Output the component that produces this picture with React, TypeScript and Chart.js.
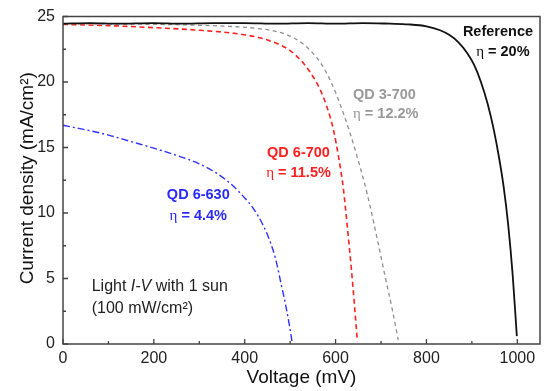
import React, { useEffect, useRef } from "react";
import { Chart, registerables } from "chart.js";

Chart.register(...registerables);

// ---- Data (voltage in mV, current density in mA/cm²) ----
const refV = [0, 60, 120, 200, 260, 330, 400, 470, 540, 600, 660, 720, 760, 800, 830, 850, 870, 890, 905, 920, 935, 948, 960, 970, 980, 990, 999];
const refJ = [24.45, 24.5, 24.45, 24.5, 24.45, 24.5, 24.5, 24.45, 24.5, 24.45, 24.5, 24.45, 24.4, 24.25, 23.95, 23.6, 23.05, 22.2, 21.3, 20.0, 18.3, 16.4, 14.2, 12.0, 9.1, 5.2, 0.6];

const qd3700V = [0, 100, 200, 300, 380, 430, 470, 500, 525, 550, 570, 590, 610, 630, 650, 670, 690, 710, 725, 738];
const qd3700J = [24.45, 24.43, 24.4, 24.33, 24.22, 24.08, 23.85, 23.5, 23.0, 22.2, 21.3, 20.0, 18.3, 16.3, 14.0, 11.4, 8.3, 5.0, 2.6, 0.3];

const qd6700V = [0, 100, 200, 300, 380, 430, 470, 500, 525, 545, 565, 580, 595, 607, 617, 626, 635, 642, 648];
const qd6700J = [24.4, 24.3, 24.15, 23.95, 23.7, 23.4, 22.95, 22.4, 21.6, 20.7, 19.5, 18.2, 16.4, 14.2, 11.9, 8.9, 5.65, 2.8, 0.2];

const qd6630V = [0, 50, 100, 150, 200, 250, 300, 340, 370, 400, 420, 440, 455, 468, 480, 490, 498, 505];
const qd6630J = [16.7, 16.35, 15.95, 15.45, 14.95, 14.4, 13.75, 13.0, 12.2, 11.15, 10.3, 9.1, 7.9, 6.5, 4.6, 3.0, 1.5, 0.0];

const xMajorTicks = [0, 200, 400, 600, 800, 1000];
const xMinorTicks = [100, 300, 500, 700, 900];
const yMajorTicks = [0, 5, 10, 15, 20, 25];
const yMinorTicks = [2.5, 7.5, 12.5, 17.5, 22.5];

const xTitle = "Voltage (mV)";
const yTitle = "Current density (mA/cm²)";

// ---- Styles ----
const FONT = "'Liberation Sans', Arial, sans-serif";
const BOLD = `bold 14.5px ${FONT}`;
const ETA = `15px 'Liberation Serif', 'DejaVu Serif', serif`;
const NORMAL = `16px ${FONT}`;
const ITALIC = `italic 16px ${FONT}`;

type Run = { text: string; font: string };
type Note = { x: number; y: number; align: "left" | "center" | "right"; color: string; runs: Run[] };

const notes: Note[] = [
  { x: 1034.6, y: 23.82, align: "right", color: "#111", runs: [{ text: "Reference", font: BOLD }] },
  { x: 1027, y: 22.31, align: "right", color: "#111", runs: [{ text: "η", font: ETA }, { text: " = 20%", font: BOLD }] },
  { x: 638.3, y: 19.0, align: "left", color: "#999", runs: [{ text: "QD 3-700", font: BOLD }] },
  { x: 638.3, y: 17.53, align: "left", color: "#999", runs: [{ text: "η", font: ETA }, { text: " = 12.2%", font: BOLD }] },
  { x: 518.4, y: 14.56, align: "center", color: "#ff1f1f", runs: [{ text: "QD 6-700", font: BOLD }] },
  { x: 518.4, y: 13.03, align: "center", color: "#ff1f1f", runs: [{ text: "η", font: ETA }, { text: " = 11.5%", font: BOLD }] },
  { x: 297.8, y: 11.37, align: "center", color: "#2a2aff", runs: [{ text: "QD 6-630", font: BOLD }] },
  { x: 297.8, y: 9.79, align: "center", color: "#2a2aff", runs: [{ text: "η", font: ETA }, { text: " = 4.4%", font: BOLD }] },
  {
    x: 63.2, y: 4.37, align: "left", color: "#222",
    runs: [{ text: "Light ", font: NORMAL }, { text: "I-V", font: ITALIC }, { text: " with 1 sun", font: NORMAL }],
  },
  { x: 63.2, y: 2.73, align: "left", color: "#222", runs: [{ text: "(100 mW/cm²)", font: NORMAL }] },
];

function drawRuns(ctx: CanvasRenderingContext2D, runs: Run[], x: number, y: number, align: string, color: string) {
  const widths = runs.map((r) => {
    ctx.font = r.font;
    return ctx.measureText(r.text).width;
  });
  const total = widths.reduce((a, b) => a + b, 0);
  let start = align === "left" ? x : align === "right" ? x - total : x - total / 2;
  ctx.fillStyle = color;
  ctx.textBaseline = "middle";
  ctx.textAlign = "left";
  runs.forEach((r, i) => {
    ctx.font = r.font;
    ctx.fillText(r.text, start, y);
    start += widths[i];
  });
}

const framePlugin = {
  id: "framePlugin",
  afterDraw(chart: any) {
    const { ctx, chartArea: a, scales } = chart;
    const xs = scales.x;
    const ys = scales.y;
    ctx.save();
    const axisColor = "#444";
    ctx.strokeStyle = axisColor;
    ctx.lineWidth = 1.5;
    ctx.strokeRect(a.left, a.top, a.right - a.left, a.bottom - a.top);

    // ticks (inside)
    ctx.lineWidth = 1.3;
    ctx.beginPath();
    xMajorTicks.forEach((v) => {
      const px = xs.getPixelForValue(v);
      ctx.moveTo(px, a.bottom);
      ctx.lineTo(px, a.bottom - 5);
    });
    xMinorTicks.forEach((v) => {
      const px = xs.getPixelForValue(v);
      ctx.moveTo(px, a.bottom);
      ctx.lineTo(px, a.bottom - 3);
    });
    yMajorTicks.forEach((v) => {
      const py = ys.getPixelForValue(v);
      ctx.moveTo(a.left, py);
      ctx.lineTo(a.left + 5, py);
    });
    yMinorTicks.forEach((v) => {
      const py = ys.getPixelForValue(v);
      ctx.moveTo(a.left, py);
      ctx.lineTo(a.left + 3, py);
    });
    ctx.stroke();

    // tick labels
    ctx.fillStyle = "#222";
    ctx.font = `16px ${FONT}`;
    ctx.textBaseline = "middle";
    ctx.textAlign = "center";
    xMajorTicks.forEach((v) => {
      ctx.fillText(String(v), xs.getPixelForValue(v), a.bottom + 14.5);
    });
    ctx.textAlign = "right";
    yMajorTicks.forEach((v) => {
      ctx.fillText(String(v), a.left - 8, ys.getPixelForValue(v));
    });

    // axis titles
    ctx.font = `19px ${FONT}`;
    ctx.fillStyle = "#111";
    ctx.textAlign = "center";
    ctx.fillText(xTitle, (a.left + a.right) / 2, 378);
    ctx.save();
    ctx.translate(27.5, (a.top + a.bottom) / 2 - 2);
    ctx.rotate(-Math.PI / 2);
    ctx.fillText(yTitle, 0, 0);
    ctx.restore();

    // annotations
    notes.forEach((n) => {
      drawRuns(ctx, n.runs, xs.getPixelForValue(n.x), ys.getPixelForValue(n.y), n.align, n.color);
    });
    ctx.restore();
  },
};

const toPoints = (xs: number[], ys: number[]) => xs.map((x, i) => ({ x, y: ys[i] }));

export default function App() {
  const canvasRef = useRef<HTMLCanvasElement | null>(null);

  useEffect(() => {
    const canvas = canvasRef.current;
    if (!canvas) return;
    const chart = new Chart(canvas, {
      type: "line",
      data: {
        datasets: [
          {
            label: "Reference",
            data: toPoints(refV, refJ),
            borderColor: "#111",
            borderWidth: 1.8,
            cubicInterpolationMode: "monotone",
          },
          {
            label: "QD 3-700",
            data: toPoints(qd3700V, qd3700J),
            borderColor: "#8f8f8f",
            borderWidth: 1.3,
            borderDash: [4, 3.5],
            cubicInterpolationMode: "monotone",
          },
          {
            label: "QD 6-700",
            data: toPoints(qd6700V, qd6700J),
            borderColor: "#ff2020",
            borderWidth: 1.6,
            borderDash: [5, 3.5],
            cubicInterpolationMode: "monotone",
          },
          {
            label: "QD 6-630",
            data: toPoints(qd6630V, qd6630J),
            borderColor: "#3030ff",
            borderWidth: 1.4,
            borderDash: [7, 3, 2, 3],
            cubicInterpolationMode: "monotone",
          },
        ],
      },
      options: {
        responsive: false,
        animation: false,
        devicePixelRatio: 1,
        layout: { padding: { left: 63, right: 8, top: 16.5, bottom: 47 } },
        plugins: { legend: { display: false }, tooltip: { enabled: false } },
        elements: { point: { radius: 0 }, line: { fill: false } },
        scales: {
          x: { type: "linear", min: 0, max: 1050, display: false },
          y: { type: "linear", min: 0, max: 25, display: false },
        },
      },
      plugins: [framePlugin],
    } as any);
    return () => chart.destroy();
  }, []);

  return (
    <div style={{ position: "fixed", left: 0, top: 0, width: 548, height: 391, background: "#fff" }}>
      <canvas ref={canvasRef} width={548} height={391} style={{ display: "block", width: 548, height: 391 }} />
    </div>
  );
}
